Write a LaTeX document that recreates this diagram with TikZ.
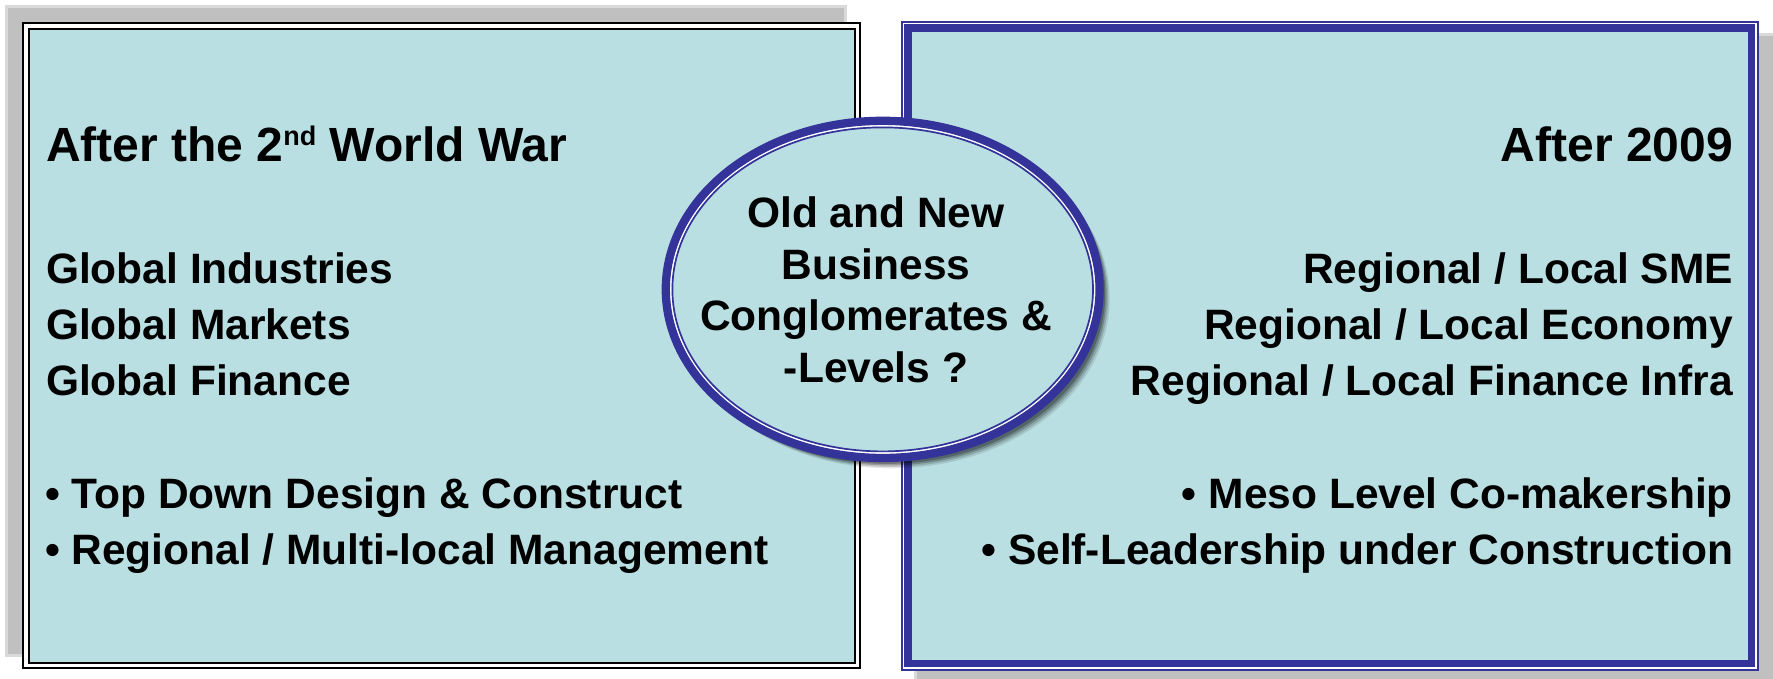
\documentclass[tikz,border=0pt]{standalone}
\usepackage{fontspec}
\setmainfont{Liberation Sans}
\definecolor{boxfill}{HTML}{B9DFE3}
\definecolor{navy}{HTML}{333399}
\definecolor{shade}{HTML}{C0C0C0}
\definecolor{shadeedge}{HTML}{D9D9D9}
\begin{document}
\begin{tikzpicture}[x=1pt,y=-1pt,
  bodytxt/.style={font=\bfseries\fontsize{42.5}{50}\selectfont, inner sep=0pt, outer sep=0pt},
  headtxt/.style={font=\bfseries\fontsize{48}{56}\selectfont, inner sep=0pt, outer sep=0pt},
  lefttxt/.style={bodytxt, anchor=base west},
  righttxt/.style={bodytxt, anchor=base east},
  midtxt/.style={bodytxt, anchor=base},
  shadowbox/.style={fill=shade, draw=shadeedge, line width=3}]
\useasboundingbox (0,0) rectangle (1773,679);
% ---- left panel ----
\path[shadowbox] (6.5,6.5) rectangle (845,655);
\fill[white] (23,23) rectangle (860,668);
\draw[black, line width=2.5] (23,23) rectangle (860,668);
\fill[boxfill] (29,29) rectangle (855,663);
\draw[black, line width=2.5] (29,29) rectangle (855,663);
% ---- right panel ----
\path[shadowbox] (915,35) rectangle (1780,686);
\fill[white] (901.7,21.7) rectangle (1758.3,669.5);
\draw[navy, line width=2] (901.7,21.7) rectangle (1758.3,669.5);
\fill[boxfill] (907.8,28) rectangle (1751.7,663.3);
\draw[navy, line width=7.5] (907.8,28) rectangle (1751.7,663.3);
% ---- central ellipse ----
\foreach \o/\a in {9/0.10,7.5/0.15,6/0.2,4.5/0.25}{
  \fill[black, opacity=\a] (882.7+\o,289.4+\o) ellipse [x radius=218, y radius=170];
}
\fill[boxfill] (882.7,289.4) ellipse [x radius=216.9, y radius=168.6];
\draw[white, line width=1.8] (882.7,289.4) ellipse [x radius=212, y radius=163.7];
\draw[navy, line width=8.3] (882.7,289.4) ellipse [x radius=216.9, y radius=168.6];
\draw[navy, line width=1.7] (882.7,289.4) ellipse [x radius=210.3, y radius=162];
% ---- left texts ----
\node[headtxt, anchor=base west] (lh) at (46,161.7) {After the 2\raisebox{16pt}{\fontsize{27}{27}\selectfont nd} World War};
\node[lefttxt] (l1) at (46,283.3) {Global Industries};
\node[lefttxt] (l2) at (46,339.3) {Global Markets};
\node[lefttxt] (l3) at (46,395.3) {Global Finance};
\node[lefttxt] (l4) at (45,508.3) {• Top Down Design \& Construct};
\node[lefttxt] (l5) at (45,564.7) {• Regional / Multi-local Management};
% ---- right texts ----
\node[headtxt, anchor=base east] (rh) at (1733,161.7) {After 2009};
\node[righttxt] (r1) at (1733,283.3) {Regional / Local SME};
\node[righttxt] (r2) at (1733,339.3) {Regional / Local Economy};
\node[righttxt] (r3) at (1733,395.3) {Regional / Local Finance Infra};
\node[righttxt] (r4) at (1733,508.3) {• Meso Level Co-makership};
\node[righttxt] (r5) at (1733,564.7) {• Self-Leadership under Construction};
% ---- ellipse texts ----
\node[midtxt] (e1) at (876,228) {Old and New};
\node[midtxt] (e2) at (876,279.5) {Business};
\node[midtxt] (e3) at (876,330.5) {Conglomerates \&};
\node[midtxt] (e4) at (876,382) {-Levels ?};
\end{tikzpicture}
\end{document}
